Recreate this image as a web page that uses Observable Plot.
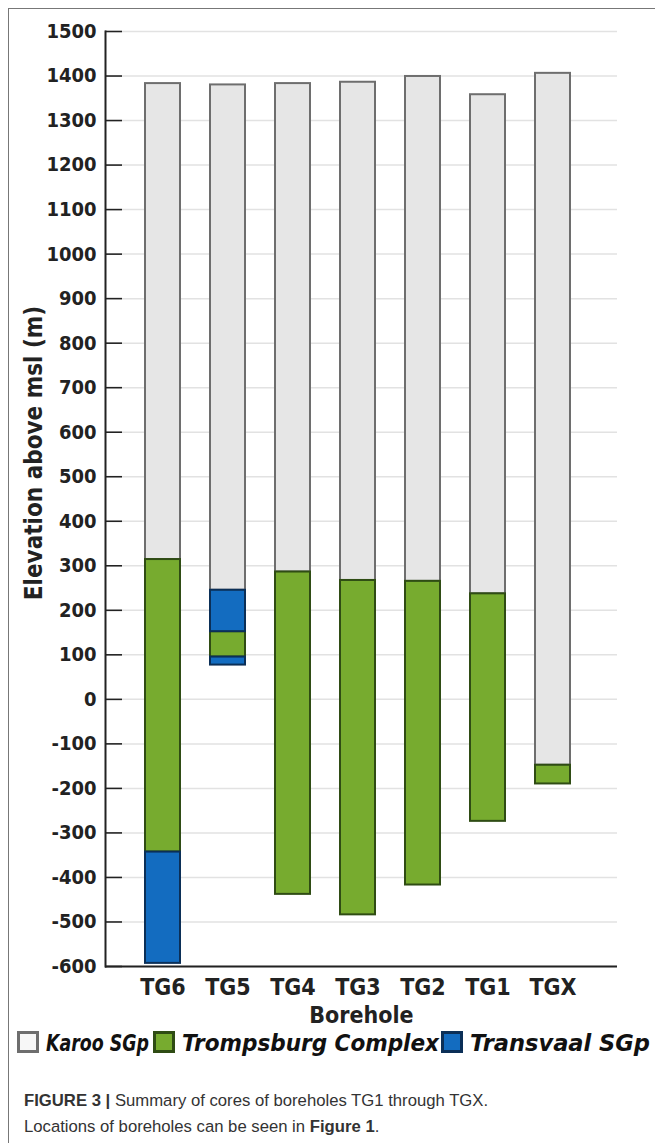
<!DOCTYPE html>
<html>
<head>
<meta charset="utf-8">
<script src="https://cdn.jsdelivr.net/npm/d3@7"></script>
<script src="https://cdn.jsdelivr.net/npm/@observablehq/plot@0.6"></script>
<style>
  html, body { margin: 0; padding: 0; background: #fff; }
  body { position: relative; width: 655px; height: 1143px; overflow: hidden; }
  #box { position: absolute; left: 8px; top: 8px; width: 660px; height: 1150px;
         border-top: 1.5px solid #777; border-left: 1.5px solid #777; }
  #chart { position: absolute; left: 0; top: 0; }
  #legend { position: absolute; left: 0; top: 1026px; }
  #caption { position: absolute; left: 24px; top: 1088px; font-family: "Liberation Sans", Arial, sans-serif;
             font-size: 16.7px; line-height: 26px; color: #333; }
</style>
</head>
<body>
<div id="box"></div>
<div id="chart"></div>
<div id="legend"></div>
<div id="caption"><b>FIGURE 3 |</b> Summary of cores of boreholes TG1 through TGX.<br>Locations of boreholes can be seen in <b>Figure 1</b>.</div>
<script>
// Boreholes, in plotting order
const holes = ["TG6", "TG5", "TG4", "TG3", "TG2", "TG1", "TGX"];

// Karoo Supergroup interval (elevation of top and base, m above msl)
const karooHole = ["TG6", "TG5", "TG4", "TG3", "TG2", "TG1", "TGX"];
const karooTop  = [1383, 1380, 1383, 1386, 1399, 1358, 1406];
const karooBase = [314, 245, 286, 267, 265, 237, -148];

// Trompsburg Complex interval
const trompHole = ["TG6", "TG5", "TG4", "TG3", "TG2", "TG1", "TGX"];
const trompTop  = [314, 152, 286, 267, 265, 237, -148];
const trompBase = [-343, 95, -438, -484, -417, -274, -190];

// Transvaal Supergroup intervals
const transHole = ["TG6", "TG5", "TG5"];
const transTop  = [-343, 245, 95];
const transBase = [-593, 152, 77];

// Elevation ticks
const yTicks = [-600, -500, -400, -300, -200, -100, 0, 100, 200, 300, 400, 500,
                600, 700, 800, 900, 1000, 1100, 1200, 1300, 1400, 1500];

// Units for the legend
const units   = ["Karoo SGp", "Trompsburg Complex", "Transvaal SGp"];
const fills   = ["#e6e6e6", "#77ab2f", "#136cc0"];
const strokes = ["#6e6e6e", "#2f4c14", "#0b2f57"];
const swatchFills = ["#f7f7f7", "#77ab2f", "#136cc0"];

const rows = (hole, top, base) => hole.map((h, i) => ({hole: h, top: top[i], base: base[i]}));

const W = 655, H = 1034;
const ML = 105, MR = 38, MT = 31, MB = H - 966;
const innerW = W - ML - MR;
const font = "'DejaVu Sans Condensed', 'DejaVu Sans', sans-serif";

const barOpts = (k) => ({x: "hole", y1: "base", y2: "top", fill: fills[k], stroke: strokes[k], strokeWidth: 2});

const chart = Plot.plot({
  width: W,
  height: H,
  marginLeft: ML,
  marginRight: MR,
  marginTop: MT,
  marginBottom: MB,
  style: {fontFamily: font, fontWeight: "bold", color: "#222", background: "transparent", overflow: "visible"},
  x: {domain: holes, paddingInner: 0.46, paddingOuter: 0.62, align: 0.46},
  y: {domain: [-600, 1500]},
  marks: [
    Plot.gridY(yTicks, {insetLeft: 17, stroke: "#e2e2e2", strokeOpacity: 1, strokeWidth: 1.5}),
    Plot.ruleY(yTicks, {insetRight: innerW - 17, stroke: "#222", strokeWidth: 1.6}),
    Plot.axisY(yTicks, {tickSize: 0, tickPadding: 9, tickFormat: (d) => `${d}`, fontSize: 20, label: null}),
    Plot.axisX({tickSize: 0, tickPadding: 12, fontSize: 23, label: "Borehole", labelAnchor: "center", labelOffset: 56, labelArrow: false}),
    Plot.barY(rows(karooHole, karooTop, karooBase), barOpts(0)),
    Plot.barY(rows(trompHole, trompTop, trompBase), barOpts(1)),
    Plot.barY(rows(transHole, transTop, transBase), barOpts(2)),
    Plot.ruleY([-600], {stroke: "#222", strokeWidth: 2}),
    Plot.frame({anchor: "left", stroke: "#222", strokeWidth: 2}),
    Plot.text(["Elevation above msl (m)"], {frameAnchor: "left", textAnchor: "middle", rotate: -90, dx: -71, dy: -46, fontSize: 24, fontWeight: "bold", fill: "#222", lineAnchor: "middle"})
  ]
});
document.getElementById("chart").append(chart);

// Legend: swatch and label per unit
const swatchX = [17, 153, 441];
const labelX = [46, 182, 470];
const labelW = [103, 257, 180];
const lg = d3.select("#legend").append("svg").attr("width", W).attr("height", 34)
  .style("font-family", font).style("font-weight", "bold").style("font-style", "italic");
units.forEach((u, k) => {
  lg.append("rect").attr("x", swatchX[k] + 1.5).attr("y", 6.5).attr("width", 19).attr("height", 19)
    .attr("fill", swatchFills[k]).attr("stroke", strokes[k]).attr("stroke-width", 3);
  lg.append("text").attr("x", labelX[k]).attr("y", 24.5).attr("font-size", 23).attr("fill", "#111")
    .attr("textLength", labelW[k]).attr("lengthAdjust", "spacingAndGlyphs").text(u);
});
</script>
</body>
</html>
